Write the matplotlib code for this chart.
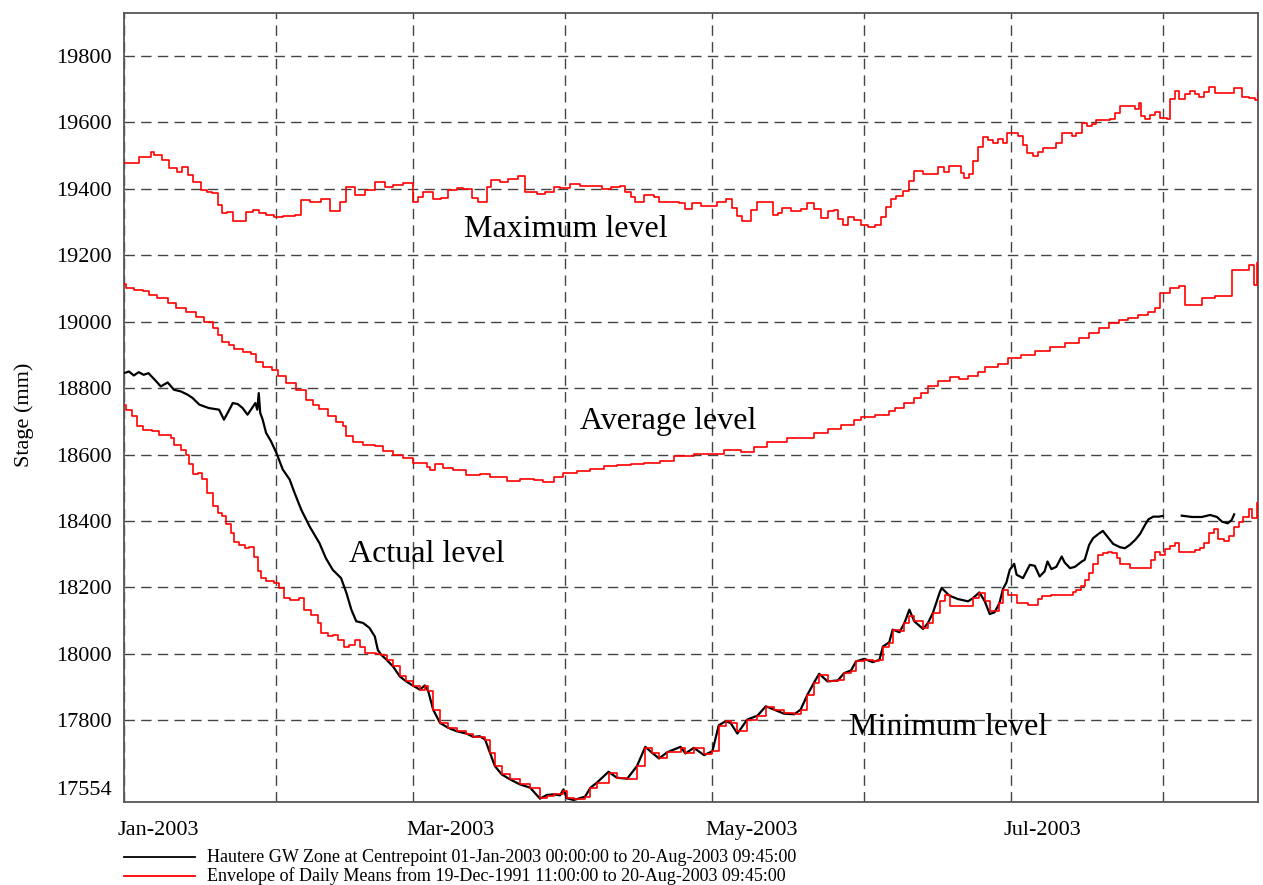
import numpy as np
import matplotlib
matplotlib.use("Agg")
import matplotlib.pyplot as plt
import matplotlib.dates as mdates
from matplotlib.lines import Line2D
from matplotlib.transforms import ScaledTranslation
from datetime import datetime

plt.rcParams['font.family'] = ['Liberation Serif', 'DejaVu Serif']

# ---- data (days after 01-Jan-2003 00:00, stage in mm) ----
max_days = [0, 3.1, 5.5, 6.1, 7.8, 9.2, 10.9, 11.9, 13.0, 14.0, 15.7, 17.0, 18.0, 19.1, 20.1, 21.1, 22.2,
            24.9, 26.3, 27.6, 29.0, 30.7, 32.4, 34.8, 36.2, 37.9, 40.3, 42.0, 44.0, 45.4, 47.1, 49.1,
            51.2, 53.2, 54.9, 57.0, 59.0, 60.0, 61.0, 63.1, 64.8, 66.2, 67.9, 69.2, 71.0, 72.3, 74.0,
            75.0, 76.7, 78.4, 80.5, 81.9, 84.3, 86.0, 87.7, 89.0, 91.1, 93.1, 97.6, 99.3, 101.3, 102.3,
            103.4, 104.4, 106.1, 108.1, 109.2, 113.2, 114.6, 116.0, 117.7, 121.1, 122.8, 124.2, 125.2,
            126.2, 127.9, 129.3, 131.3, 132.4, 133.4, 134.4, 136.1, 138.2, 139.5, 140.9, 142.2, 143.6,
            145.0, 145.7, 146.7, 147.7, 149.1, 150.4, 151.8, 153.2, 154.5, 155.5, 156.6, 157.6, 159.0,
            160.3, 161.3, 163.1, 166.2, 167.4, 168.4, 170.9, 171.5, 172.5, 173.3, 174.4, 175.3, 176.4,
            177.4, 178.4, 179.4, 180.3, 181.5, 182.5, 183.5, 184.4, 185.6, 186.6, 187.6, 190.3, 191.4,
            193.6, 194.4, 195.5, 196.5, 197.5, 198.5, 201.2, 202.2, 203.4, 206.3, 207.1, 207.5, 208.4,
            209.4, 210.4, 211.4, 212.8, 213.5, 214.5, 215.3, 216.5, 217.5, 218.6, 219.4, 220.4, 221.4,
            222.7, 226.5, 228.2, 229.6, 230.9, 231.4]
max_vals = [19477, 19496, 19510, 19501, 19487, 19463, 19451, 19466, 19441, 19421, 19396, 19391, 19386,
            19351, 19326, 19330, 19304, 19331, 19336, 19326, 19321, 19314, 19318, 19321, 19366, 19361,
            19368, 19334, 19361, 19406, 19381, 19396, 19419, 19406, 19411, 19416, 19361, 19376, 19391,
            19368, 19371, 19396, 19403, 19400, 19371, 19361, 19406, 19426, 19421, 19428, 19438, 19391,
            19384, 19391, 19406, 19401, 19413, 19408, 19398, 19406, 19408, 19391, 19374, 19361, 19381,
            19376, 19359, 19356, 19339, 19356, 19349, 19361, 19369, 19341, 19318, 19304, 19336, 19361,
            19359, 19321, 19326, 19341, 19334, 19338, 19356, 19338, 19311, 19334, 19336, 19309, 19291,
            19314, 19306, 19291, 19286, 19292, 19315, 19346, 19368, 19378, 19392, 19423, 19453, 19446,
            19466, 19451, 19468, 19448, 19434, 19446, 19483, 19526, 19555, 19547, 19539, 19549, 19539,
            19567, 19569, 19560, 19532, 19507, 19499, 19512, 19524, 19537, 19569, 19558, 19567, 19597,
            19590, 19595, 19607, 19609, 19629, 19649, 19639, 19659, 19619, 19609, 19622, 19632, 19614,
            19611, 19669, 19695, 19671, 19686, 19695, 19685, 19675, 19692, 19705, 19689, 19702, 19677,
            19672, 19667, 19692]

avg_days = [0, 0.5, 2.1, 3.8, 5.1, 6.8, 8.9, 10.6, 12.6, 14.7, 16.4, 18.1, 19.1, 20.1, 21.5, 22.5, 24.2,
            25.9, 26.9, 28.3, 30.3, 31.4, 33.1, 35.1, 37.2, 38.5, 39.9, 41.6, 43.3, 44.7, 45.4, 46.7,
            48.8, 51.2, 52.9, 54.9, 57.0, 59.0, 61.8, 62.4, 63.4, 65.1, 67.1, 69.9, 72.6, 74.7, 78.1,
            80.8, 83.6, 85.6, 87.7, 89.7, 92.4, 95.1, 97.9, 100.6, 103.4, 106.1, 109.5, 112.3, 116.4,
            122.5, 125.9, 128.6, 131.3, 135.4, 140.9, 143.6, 146.4, 149.1, 150.4, 153.2, 156.2, 157.3,
            159.3, 161.3, 162.7, 164.1, 166.1, 168.5, 170.5, 172.2, 174.3, 175.7, 178.4, 180.5, 183.0,
            186.0, 189.0, 192.0, 195.0, 197.0, 199.0, 201.0, 203.0, 205.0, 207.0, 209.0, 210.5, 211.4,
            213.5, 215.3, 216.5, 220.0, 222.7, 226.1, 229.6, 230.6, 231.3]
avg_vals = [19114, 19101, 19094, 19092, 19081, 19071, 19056, 19041, 19028, 19014, 19000, 18980, 18960,
            18940, 18930, 18917, 18910, 18903, 18880, 18865, 18855, 18835, 18815, 18795, 18765, 18750,
            18737, 18715, 18697, 18685, 18655, 18637, 18630, 18625, 18610, 18600, 18590, 18575, 18563,
            18553, 18573, 18560, 18553, 18538, 18541, 18533, 18520, 18525, 18522, 18517, 18533, 18545,
            18550, 18557, 18565, 18567, 18570, 18575, 18580, 18597, 18602, 18615, 18608, 18623, 18637,
            18650, 18665, 18677, 18690, 18705, 18713, 18720, 18730, 18740, 18755, 18770, 18785, 18807,
            18820, 18833, 18827, 18835, 18847, 18865, 18873, 18890, 18900, 18912, 18925, 18937, 18950,
            18965, 18980, 18995, 19005, 19012, 19020, 19030, 19040, 19085, 19101, 19108, 19050, 19071,
            19078, 19157, 19170, 19111, 19176]

min_days = [0, 0.5, 1.7, 2.7, 3.8, 5.8, 7.2, 9.5, 10.2, 11.6, 12.6, 13.3, 14.0, 15.0, 16.0, 17.0, 18.1,
            19.1, 20.1, 20.8, 21.8, 22.5, 23.5, 24.6, 25.6, 26.6, 27.3, 28.0, 29.0, 30.7, 31.7, 32.7,
            33.8, 35.8, 36.8, 38.2, 39.5, 40.2, 41.6, 42.6, 43.6, 45.0, 46.0, 47.1, 48.1, 49.1, 51.5,
            52.5, 53.6, 54.9, 56.3, 57.6, 59.0, 60.4, 61.4, 62.1, 63.1, 64.5, 66.2, 67.9, 69.9, 71.3,
            72.6, 73.7, 74.7, 75.7, 77.1, 78.8, 80.8, 82.9, 84.9, 86.3, 87.7, 89.0, 89.7, 90.4, 91.8,
            94.1, 95.2, 96.5, 98.9, 100.6, 102.7, 104.7, 106.4, 107.8, 109.2, 110.9, 113.6, 114.6,
            116.3, 118.4, 120.1, 121.4, 122.8, 123.8, 125.2, 127.2, 129.3, 131.0, 132.7, 134.7, 136.8,
            138.1, 139.5, 140.9, 141.9, 143.6, 145.7, 147.0, 148.4, 149.4, 151.1, 152.8, 154.2, 154.9,
            156.2, 156.9, 158.3, 159.3, 160.3, 161.3, 163.1, 164.1, 165.1, 166.5, 167.5, 168.5, 172.3,
            173.3, 174.6, 175.7, 176.7, 178.7, 179.4, 180.5, 182.2, 184.5, 186.6, 187.3, 189.3, 193.8,
            194.4, 195.3, 196.1, 197.0, 197.8, 198.9, 199.9, 200.8, 201.6, 202.6, 203.3, 205.3, 209.6,
            210.5, 211.5, 212.5, 213.5, 214.6, 215.3, 218.6, 219.7, 220.4, 221.4, 222.4, 223.4, 224.5,
            225.5, 226.5, 227.5, 228.5, 229.6, 230.2, 231.3]
min_vals = [18750, 18735, 18715, 18685, 18673, 18670, 18660, 18650, 18630, 18615, 18600, 18570, 18540,
            18545, 18525, 18485, 18445, 18425, 18415, 18390, 18363, 18338, 18328, 18318, 18323, 18293,
            18248, 18228, 18218, 18213, 18198, 18168, 18163, 18168, 18133, 18118, 18093, 18063, 18055,
            18058, 18043, 18022, 18028, 18043, 18022, 18004, 18000, 17997, 17982, 17962, 17932, 17917,
            17904, 17892, 17902, 17887, 17832, 17792, 17777, 17767, 17760, 17750, 17751, 17742, 17702,
            17662, 17637, 17622, 17607, 17597, 17567, 17572, 17577, 17578, 17587, 17567, 17562, 17570,
            17597, 17612, 17642, 17627, 17624, 17662, 17717, 17702, 17687, 17704, 17717, 17702, 17717,
            17697, 17707, 17782, 17797, 17792, 17767, 17802, 17814, 17840, 17832, 17822, 17820, 17832,
            17877, 17912, 17937, 17917, 17920, 17942, 17947, 17977, 17982, 17977, 17982, 18022, 18033,
            18073, 18068, 18093, 18113, 18098, 18078, 18093, 18123, 18158, 18178, 18143, 18143, 18168,
            18183, 18158, 18128, 18153, 18193, 18178, 18153, 18148, 18165, 18173, 18178, 18185, 18193,
            18205, 18223, 18243, 18271, 18298, 18305, 18308, 18305, 18288, 18271, 18258, 18281, 18308,
            18298, 18315, 18325, 18335, 18308, 18312, 18318, 18333, 18365, 18375, 18345, 18341, 18355,
            18383, 18398, 18412, 18435, 18408, 18453]

act_days = [0, 1, 2, 3, 4, 5, 5.5, 6.6, 7.5, 8.9, 10.2, 11.6, 13, 14, 15.4, 17.3, 19.4, 20.4, 21.5, 22.2,
            23.2, 24.2, 25.2, 25.9, 26.8, 27.2, 27.5, 27.8, 28.3, 29, 30, 31.1, 32.4, 33.8, 34.8, 36.2,
            37.9, 39.9, 41.2, 42.6, 44.3, 45.4, 46.4, 47.4, 48.8, 50.1, 51.2, 51.8, 52.5, 53.6, 54.9,
            56.3, 57.6, 59, 60.4, 61.4, 62.1, 63.1, 64.5, 66.2, 67.9, 69.9, 71.3, 72.6, 73.7, 74.7,
            75.7, 77.1, 78.8, 80.8, 82.9, 84.9, 86.3, 87.7, 89, 89.7, 90.4, 91.8, 94.1, 95.2, 96.5,
            98.9, 100.6, 102.7, 104.7, 106.4, 107.8, 109.2, 110.9, 113.6, 114.6, 116.3, 118.4, 120.1,
            121.4, 122.8, 123.8, 125.2, 127.2, 129.3, 131.0, 132.7, 134.7, 136.8, 138.1, 139.5, 140.9,
            141.9, 143.6, 145.7, 147.0, 148.4, 149.4, 151.1, 152.8, 154.2, 154.9, 156.2, 156.9, 158.3,
            159.3, 160.3, 161.3, 163.1, 164.1, 165.1, 166.5, 166.9, 168.5, 170.2, 172.3, 173.3, 174.6,
            175.7, 176.7, 177.7, 178.7, 179.4, 180.1, 180.8, 181.7, 182.2, 183.5, 184.9, 185.9, 186.9,
            187.9, 188.5, 189.3, 190.3, 191.4, 192.0, 193.1, 194.1, 195.5, 196.1, 197.0, 197.8, 198.9,
            199.8, 200.6, 201.9, 203.3, 204.3, 205.3, 206.4, 207.4, 208.4, 209.1, 210.1, 211.2, 212.0,
            213.0, 215.9, 218.0, 220.0, 221.7, 223.1, 224.1, 225.3, 226.1, 226.6]
act_vals = [18845, 18850, 18838, 18848, 18840, 18845, 18837, 18820, 18805, 18817, 18795, 18790, 18780,
            18770, 18750, 18740, 18735, 18705, 18735, 18755, 18752, 18740, 18720, 18735, 18755, 18735,
            18785, 18725, 18705, 18665, 18640, 18605, 18555, 18525, 18485, 18433, 18383, 18333, 18288,
            18253, 18228, 18183, 18133, 18098, 18093, 18078, 18052, 18012, 17997, 17982, 17962, 17932,
            17917, 17904, 17892, 17905, 17887, 17832, 17792, 17777, 17767, 17760, 17750, 17752, 17742,
            17702, 17662, 17637, 17622, 17607, 17597, 17564, 17575, 17577, 17574, 17592, 17565, 17560,
            17570, 17597, 17612, 17645, 17627, 17624, 17662, 17720, 17702, 17685, 17704, 17720, 17700,
            17717, 17695, 17707, 17785, 17797, 17792, 17760, 17802, 17814, 17842, 17832, 17820, 17818,
            17832, 17877, 17915, 17940, 17917, 17920, 17942, 17950, 17977, 17985, 17975, 17982, 18022,
            18035, 18073, 18065, 18093, 18133, 18098, 18075, 18093, 18123, 18185, 18198, 18175, 18165,
            18158, 18168, 18185, 18158, 18120, 18125, 18153, 18195, 18214, 18253, 18271, 18238, 18228,
            18268, 18265, 18233, 18248, 18278, 18255, 18262, 18293, 18275, 18258, 18262, 18278, 18283,
            18328, 18348, 18361, 18370, 18355, 18331, 18321, 18318, 18328, 18343, 18361, 18388, 18405,
            18413, 18413, 18415, np.nan, 18416, 18412, 18412, 18418, 18412, 18398, 18393, 18403, 18420]

y_ticks = [17554, 17800, 18000, 18200, 18400, 18600, 18800, 19000, 19200, 19400, 19600, 19800]
legend_labels = ["Hautere GW Zone at Centrepoint 01-Jan-2003 00:00:00 to 20-Aug-2003 09:45:00",
                 "Envelope of Daily Means from 19-Dec-1991 11:00:00 to 20-Aug-2003 09:45:00"]
annotations = [("Maximum level", 90.1, 19276), ("Average level", 111.0, 18699),
               ("Actual level", 61.8, 18299), ("Minimum level", 168.2, 17778)]

# ---- plotting ----
base = mdates.date2num(datetime(2003, 1, 1))
def tx(d):
    return base + np.asarray(d, dtype=float)

fig = plt.figure(figsize=(12.63, 8.85), dpi=100)
ax = fig.add_axes([0.0982, 0.0938, 0.8976, 0.8918])

ax.plot(tx(act_days), act_vals, color='black', lw=1.6, zorder=3)
ax.plot(tx(max_days), max_vals, color='#ff0000', lw=1.2, drawstyle='steps-post', zorder=4)
ax.plot(tx(avg_days), avg_vals, color='#ff0000', lw=1.2, drawstyle='steps-post', zorder=4)
ax.plot(tx(min_days), min_vals, color='#ff0000', lw=1.2, drawstyle='steps-post', zorder=4)

ax.set_xlim(base, base + 231.406)
ax.set_ylim(17554, 19930)

ax.xaxis.set_major_locator(mdates.MonthLocator(bymonth=[1, 3, 5, 7]))
ax.xaxis.set_major_formatter(mdates.DateFormatter('%b-%Y'))
ax.xaxis.set_minor_locator(mdates.MonthLocator())
ax.set_yticks(y_ticks)
ax.set_yticklabels([str(v) for v in y_ticks])

ax.tick_params(axis='both', which='both', length=0, labelsize=16)
ax.tick_params(axis='x', pad=14)
ax.tick_params(axis='y', pad=9)
for lab in ax.get_xticklabels():
    lab.set_horizontalalignment('left')
    lab.set_transform(lab.get_transform() + ScaledTranslation(-0.07, 0, fig.dpi_scale_trans))
ylabs = ax.get_yticklabels()
ylabs[0].set_transform(ylabs[0].get_transform() + ScaledTranslation(0, 0.14, fig.dpi_scale_trans))

dash = (0, (7.5, 4.5))
ax.grid(False)
ax.xaxis.grid(True, which='both', color='#444444', lw=1.0, linestyle=dash)
for v in y_ticks[1:]:
    ax.axhline(v, color='#444444', lw=1.0, linestyle=dash, zorder=1)

for s in ax.spines.values():
    s.set_color('#555555')
    s.set_linewidth(1.3)

ax.set_ylabel('Stage (mm)', fontsize=16, labelpad=10)
ax.yaxis.set_label_coords(-0.079, 0.49)

for txt, d, v in annotations:
    ax.text(tx(d), v, txt, fontsize=23, ha='center', va='center', zorder=5)

# legend
W, H = 1263.0, 885.0
for i, (lab, col) in enumerate(zip(legend_labels, ['black', '#ff0000'])):
    yy = 1 - (857 + 19 * i) / H
    fig.add_artist(Line2D([124 / W, 195 / W], [yy, yy], color=col, lw=1.3))
    fig.text(207 / W, yy, lab, fontsize=13, va='center', ha='left')

fig.savefig('out.png', dpi=100)
